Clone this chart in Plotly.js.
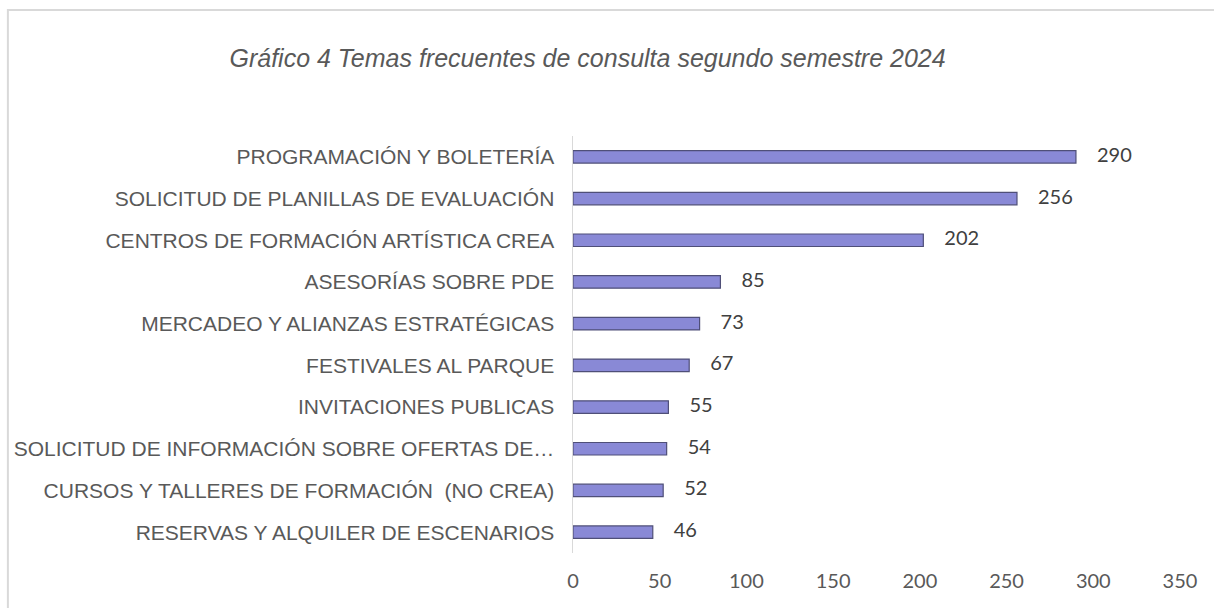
<!DOCTYPE html>
<html>
<head>
<meta charset="utf-8">
<script src="https://cdn.plot.ly/plotly-3.0.1.min.js"></script>
<style>html,body{margin:0;padding:0;background:#fff;}#chart{width:1214px;height:608px;}</style>
</head>
<body>
<div id="chart"></div>
<script>
const categories = [
  "PROGRAMACIÓN Y BOLETERÍA",
  "SOLICITUD DE PLANILLAS DE EVALUACIÓN",
  "CENTROS DE FORMACIÓN ARTÍSTICA CREA",
  "ASESORÍAS SOBRE PDE",
  "MERCADEO Y ALIANZAS ESTRATÉGICAS",
  "FESTIVALES AL PARQUE",
  "INVITACIONES PUBLICAS",
  "SOLICITUD DE INFORMACIÓN SOBRE OFERTAS DE…",
  "CURSOS Y TALLERES DE FORMACIÓN  (NO CREA)",
  "RESERVAS Y ALQUILER DE ESCENARIOS"
];
const values = [290, 256, 202, 85, 73, 67, 55, 54, 52, 46];
const xTicks = [0, 50, 100, 150, 200, 250, 300, 350];
const titleText = "Gráfico 4 Temas frecuentes de consulta segundo semestre 2024";

const bars = {
  type: 'bar',
  orientation: 'h',
  y: categories,
  x: values,
  marker: {color: '#8989d6', line: {color: '#4f4f78', width: 1.2}},
  hoverinfo: 'none'
};

const labels = {
  type: 'scatter',
  mode: 'markers+text',
  y: categories,
  x: values,
  text: values.map(v => String(v)),
  textposition: 'middle right',
  cliponaxis: false,
  marker: {size: 32, color: 'rgba(0,0,0,0)'},
  textfont: {family: 'Lato, "Open Sans", sans-serif', size: 20, color: '#404040'},
  hoverinfo: 'none'
};

const layout = {
  width: 1214, height: 608,
  margin: {l: 573, r: 34, t: 136, b: 55},
  paper_bgcolor: '#ffffff', plot_bgcolor: '#ffffff',
  bargap: 0.7,
  showlegend: false,
  title: {
    text: '<i>' + titleText + '</i>',
    x: 0.484, xanchor: 'center', xref: 'container',
    y: 0.905, yanchor: 'middle', yref: 'container',
    font: {family: '"Liberation Sans", Arial, sans-serif', size: 25, color: '#595959'}
  },
  xaxis: {
    range: [0, 350],
    tickvals: xTicks,
    ticktext: xTicks.map(String),
    showgrid: false, zeroline: false, showline: false,
    ticks: '',
    ticklabelstandoff: 14,
    tickfont: {family: 'Lato, "Open Sans", sans-serif', size: 20, color: '#595959'}
  },
  yaxis: {
    type: 'category',
    range: [categories.length - 0.5, -0.5],
    showgrid: false, zeroline: false,
    showline: true, linecolor: '#d9d9d9', linewidth: 1.5,
    ticks: '',
    ticklabelstandoff: 13,
    tickfont: {family: '"Liberation Sans", Arial, sans-serif', size: 21, color: '#595959'}
  },
  shapes: [{
    type: 'rect', xref: 'paper', yref: 'paper',
    x0: -0.931, x1: 1.07, y0: -0.17, y1: 1.302,
    line: {color: '#d9d9d9', width: 2}, fillcolor: 'rgba(0,0,0,0)', layer: 'below'
  }]
};

Plotly.newPlot('chart', [bars, labels], layout, {displayModeBar: false, staticPlot: true});
</script>
</body>
</html>
